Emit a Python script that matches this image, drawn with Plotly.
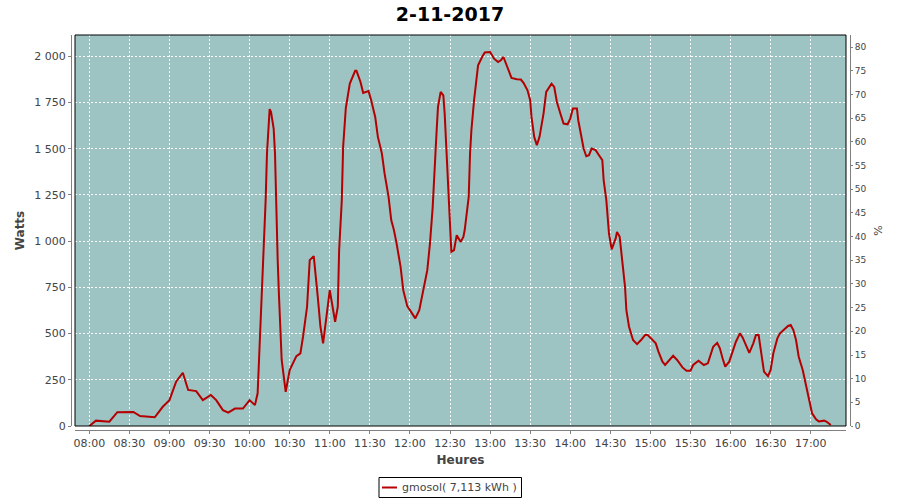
import plotly.graph_objects as go

DAY = "2017-11-02"

times = [
    "08:00", "08:05", "08:15", "08:21", "08:33", "08:38", "08:49", "08:55",
    "09:00", "09:05", "09:10", "09:14", "09:20", "09:25", "09:31", "09:35",
    "09:40", "09:44", "09:49", "09:55", "10:00", "10:04", "10:06", "10:08",
    "10:10", "10:12", "10:13", "10:15", "10:16", "10:18", "10:19", "10:20",
    "10:21", "10:22", "10:24", "10:27", "10:30", "10:35", "10:38", "10:40",
    "10:43", "10:45", "10:48", "10:51", "10:53", "10:55", "10:59", "11:00",
    "11:04", "11:06", "11:07", "11:09", "11:10", "11:12", "11:15", "11:19",
    "11:20", "11:23", "11:25", "11:29", "11:31", "11:34", "11:36", "11:39",
    "11:41", "11:44", "11:46", "11:48", "11:50", "11:53", "11:55", "11:58",
    "12:00", "12:04", "12:07", "12:10", "12:13", "12:15", "12:17", "12:20",
    "12:21", "12:23", "12:25", "12:26", "12:28", "12:29", "12:30", "12:31",
    "12:33", "12:35", "12:38", "12:40", "12:41", "12:43", "12:44", "12:45",
    "12:46", "12:48", "12:50", "12:51", "12:54", "12:56", "13:00", "13:01",
    "13:03", "13:06", "13:08", "13:10", "13:11", "13:14", "13:16", "13:20",
    "13:23", "13:25", "13:28", "13:30", "13:31", "13:33", "13:35", "13:37",
    "13:40", "13:42", "13:46", "13:48", "13:50", "13:53", "13:55", "13:58",
    "14:00", "14:02", "14:05", "14:06", "14:08", "14:10", "14:12", "14:14",
    "14:16", "14:19", "14:21", "14:24", "14:25", "14:27", "14:29", "14:31",
    "14:34", "14:35", "14:37", "14:39", "14:41", "14:42", "14:44", "14:47",
    "14:50", "14:53", "14:56", "14:58", "15:01", "15:04", "15:06", "15:09",
    "15:11", "15:14", "15:17", "15:20", "15:24", "15:27", "15:30", "15:32",
    "15:36", "15:40", "15:43", "15:45", "15:47", "15:50", "15:52", "15:54",
    "15:56", "15:59", "16:01", "16:04", "16:07", "16:09", "16:12", "16:14",
    "16:17", "16:19", "16:21", "16:23", "16:25", "16:28", "16:30", "16:32",
    "16:35", "16:37", "16:40", "16:43", "16:45", "16:47", "16:49", "16:51",
    "16:54", "16:56", "16:59", "17:01", "17:04", "17:06", "17:10", "17:12",
    "17:15",
]

watts = [
    0, 29, 23, 75, 76, 54, 47, 104,
    140, 240, 288, 195, 189, 140, 168, 140,
    86, 72, 94, 94, 140, 113, 177, 519,
    861, 1222, 1474, 1714, 1700, 1609, 1474, 1150,
    900, 700, 357, 185, 303, 378, 393, 483,
    645, 897, 919, 700, 537, 447, 663, 735,
    564, 645, 951, 1222, 1510, 1720, 1852, 1921,
    1921, 1861, 1802, 1812, 1762, 1672, 1564, 1474,
    1366, 1239, 1114, 1060, 988, 861, 735, 648,
    627, 582, 627, 744, 843, 988, 1180, 1600,
    1726, 1807, 1789, 1690, 1420, 1222, 1080, 942,
    951, 1032, 996, 1023, 1060, 1185, 1239, 1474,
    1600, 1762, 1888, 1951, 1996, 2020, 2023, 2011,
    1987, 1969, 1978, 1996, 1978, 1924, 1883, 1876,
    1874, 1856, 1816, 1762, 1672, 1564, 1519, 1564,
    1690, 1807, 1852, 1834, 1753, 1681, 1636, 1632,
    1663, 1717, 1717, 1654, 1582, 1501, 1459, 1465,
    1501, 1492, 1470, 1438, 1330, 1222, 1040, 955,
    1015, 1050, 1023, 897, 753, 627, 537, 465,
    443, 465, 492, 492, 469, 447, 402, 348,
    330, 357, 380, 357, 317, 299, 299, 330,
    353, 330, 339, 384, 429, 450, 420, 366,
    321, 348, 393, 456, 501, 479, 429, 396,
    447, 492, 492, 393, 294, 270, 303, 393,
    474, 501, 519, 541, 546, 519, 465, 375,
    303, 231, 140, 69, 36, 25, 29, 23,
    5,
]

series_name = "gmosol( 7,113 kWh )"
title_text = "2-11-2017"
x_title = "Heures"
y_title = "Watts"
y2_title = "%"

y_tickvals = [0, 250, 500, 750, 1000, 1250, 1500, 1750, 2000]
y_ticktext = ["0", "250", "500", "750", "1 000", "1 250", "1 500", "1 750", "2 000"]
y2_tickvals = list(range(0, 85, 5))

x_start = "07:49:18"
x_end = "17:26:24"
y_max = 2115
y2_max = 82.6

FONT = "DejaVu Sans"
GRAY = "#808080"
TXT = "#444444"
RED = "#b40000"

x = [f"{DAY} {t}" for t in times]

W, H = 900, 500
ml, mr, mt, mb = 71, 50, 35, 70
pw = W - ml - mr
ph = H - mt - mb
gap = 4


def px(v):
    return (v - ml) / pw


def py(v):
    return (H - mb - v) / ph


fig = go.Figure()
fig.add_trace(go.Scatter(
    x=x, y=watts, mode="lines", name=series_name,
    line=dict(color=RED, width=2), showlegend=False,
))
fig.add_trace(go.Scatter(x=[], y=[], yaxis="y2", showlegend=False))

# legend box (drawn manually to match the compact original)
leg_shapes = [
    dict(type="rect", xref="paper", yref="paper",
         x0=px(379), x1=px(521.5), y0=py(497.5), y1=py(477.5),
         line=dict(color="black", width=1), fillcolor="white"),
    dict(type="line", xref="paper", yref="paper",
         x0=px(382), x1=px(397), y0=py(487.5), y1=py(487.5),
         line=dict(color=RED, width=2)),
]

fig.update_layout(
    width=W, height=H,
    margin=dict(l=ml, r=mr, t=mt, b=mb, pad=0),
    paper_bgcolor="white",
    plot_bgcolor="#9ec3c3",
    font=dict(family=FONT, size=11, color=TXT),
    title=dict(text=f"<b>{title_text}</b>", x=0.5, xanchor="center",
               y=1 - 14 / H, yanchor="middle",
               font=dict(family=FONT, size=19, color="black")),
    showlegend=False,
    xaxis=dict(
        type="date",
        domain=[gap / pw, 1 - gap / pw],
        anchor="free", position=0,
        range=[f"{DAY} {x_start}", f"{DAY} {x_end}"],
        tick0=f"{DAY} 08:00", dtick=30 * 60 * 1000,
        tickformat="%H:%M",
        showgrid=True, gridcolor="white", gridwidth=1, griddash="2px,2px",
        showline=True, linecolor=GRAY, linewidth=1,
        ticks="outside", ticklen=3, tickcolor=GRAY,
        tickfont=dict(family=FONT, size=11, color=TXT),
        title=dict(text=f"<b>{x_title}</b>", standoff=6,
                   font=dict(family=FONT, size=12, color=TXT)),
        zeroline=False,
    ),
    yaxis=dict(
        domain=[gap / ph, 1],
        anchor="free", position=0,
        range=[0, y_max],
        tickvals=y_tickvals, ticktext=y_ticktext,
        showgrid=True, gridcolor="white", gridwidth=1, griddash="2px,2px",
        showline=True, linecolor=GRAY, linewidth=1,
        ticks="outside", ticklen=3, tickcolor=GRAY,
        tickfont=dict(family=FONT, size=11, color=TXT),
        title=dict(text=f"<b>{y_title}</b>", standoff=6,
                   font=dict(family=FONT, size=12, color=TXT)),
        zeroline=False,
    ),
    yaxis2=dict(
        overlaying="y", side="right",
        anchor="free", position=1,
        range=[0, y2_max],
        tickvals=y2_tickvals,
        showgrid=False,
        showline=True, linecolor=GRAY, linewidth=1,
        ticks="outside", ticklen=2, tickcolor=GRAY,
        tickfont=dict(family=FONT, size=9, color=TXT),
        title=dict(text=y2_title, standoff=8,
                   font=dict(family=FONT, size=11, color=TXT)),
        zeroline=False,
    ),
    shapes=[dict(type="rect", xref="x domain", yref="y domain",
                 x0=0, x1=1, y0=0, y1=1,
                 line=dict(color="black", width=1), layer="above")] + leg_shapes,
    annotations=[dict(text=series_name, xref="paper", yref="paper",
                      x=px(400), y=py(487.5), xanchor="left", yanchor="middle",
                      showarrow=False,
                      font=dict(family=FONT, size=11, color=TXT))],
)

fig.write_html("out.html",
               config={"displayModeBar": False},
               post_script="document.body.style.margin='0';")
